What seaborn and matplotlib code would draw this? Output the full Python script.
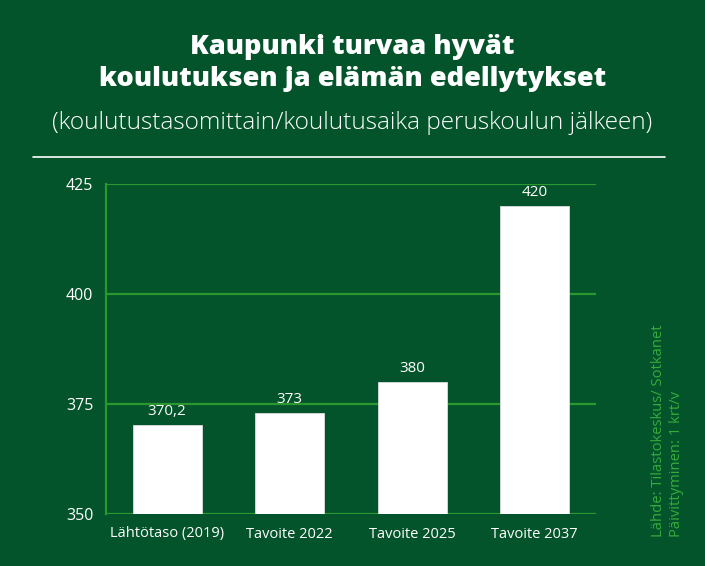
import matplotlib
matplotlib.use("Agg")
import matplotlib.pyplot as plt
import seaborn as sns
import pandas as pd

categories = ["Lähtötaso (2019)", "Tavoite 2022", "Tavoite 2025", "Tavoite 2037"]
values = [370.2, 373, 380, 420]
value_labels = ["370,2", "373", "380", "420"]
yticks = [350, 375, 400, 425]

BG = "#03542a"
GRID = "#2a972f"
SRC = "#36ac3c"

sns.set_theme(style="white")
plt.rcParams["font.family"] = ["Open Sans", "DejaVu Sans"]

fig = plt.figure(figsize=(7.05, 5.66), dpi=100, facecolor=BG)
ax = fig.add_axes([106/705, 1-514/566, 490/705, 330/566])
ax.set_facecolor(BG)

df = pd.DataFrame({"cat": categories, "val": values})
sns.barplot(data=df, x="cat", y="val", color="white", width=0.565, ax=ax,
            saturation=1, edgecolor="#dddddd", linewidth=0.6, zorder=3)

ax.set_ylim(350, 425)
ax.set_yticks(yticks)
ax.set_yticklabels([str(t) for t in yticks])
ax.set_xlim(-0.5, 3.5)
for t in yticks:
    ax.axhline(t, color=GRID, lw=1.6, zorder=1)
for s in ["top", "right", "bottom"]:
    ax.spines[s].set_visible(False)
ax.spines["left"].set_color(GRID)
ax.spines["left"].set_linewidth(1.6)
ax.tick_params(axis="y", colors="white", labelsize=11.5, length=0, pad=9)
ax.tick_params(axis="x", colors="white", labelsize=10.5, length=0, pad=9)
ax.set_xlabel("")
ax.set_ylabel("")

for i, (v, l) in enumerate(zip(values, value_labels)):
    ax.annotate(l, (i, v), xytext=(0, 4.5), textcoords="offset points",
                ha="center", va="bottom", color="white", fontsize=11, zorder=4)

fig.text(0.5, 1-47/566, "Kaupunki turvaa hyvät", ha="center", va="center",
         color="white", fontsize=19.6, fontweight="heavy")
fig.text(0.5, 1-79/566, "koulutuksen ja elämän edellytykset", ha="center", va="center",
         color="white", fontsize=19.6, fontweight="heavy")
fig.text(0.5, 1-123/566, "(koulutustasomittain/koulutusaika peruskoulun jälkeen)",
         ha="center", va="center", color="white", fontsize=17.6, fontweight="light")
fig.add_artist(plt.Line2D([33/705, 665/705], [1-157/566, 1-157/566],
                          color="white", lw=1.2, transform=fig.transFigure))

fig.text(658/705, 1-537/566, "Lähde: Tilastokeskus/ Sotkanet", rotation=90,
         ha="center", va="bottom", color=SRC, fontsize=10.6)
fig.text(677/705, 1-537/566, "Päivittyminen: 1 krt/v", rotation=90,
         ha="center", va="bottom", color=SRC, fontsize=10.6)

fig.savefig("out.png", dpi=100, facecolor=BG)
